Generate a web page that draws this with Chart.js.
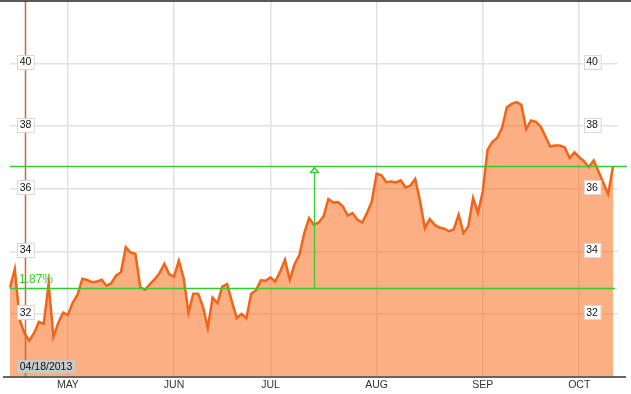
<!DOCTYPE html>
<html>
<head>
<meta charset="utf-8">
<script src="https://cdn.jsdelivr.net/npm/chart.js@4.4.0/dist/chart.umd.min.js"></script>
<style>
  html, body { margin: 0; padding: 0; background: #fff; }
  #wrap { width: 631px; height: 394px; position: relative; }
</style>
</head>
<body>
<div id="wrap"><canvas id="priceChart"></canvas></div>
<script>
// daily closes, 04/15/2013 .. 10/10/2013 (trading days)
const prices = [
  32.84, 33.43, 31.81, 31.38, 31.14, 31.39, 31.74, 31.68, 32.96, 31.27,
  31.71, 32.04, 31.97, 32.35, 32.61, 33.12, 33.08, 33.01, 33.03, 33.09,
  32.90, 32.98, 33.23, 33.33, 34.13, 33.96, 33.92, 32.85, 32.77, 32.95,
  33.11, 33.30, 33.60, 33.27, 33.19, 33.70, 33.14, 32.04, 32.64, 32.64,
  32.23, 31.55, 32.52, 32.34, 32.87, 32.95, 32.39, 31.86, 32.00, 31.86,
  32.64, 32.75, 33.07, 33.06, 33.17, 33.03, 33.35, 33.73, 33.09, 33.59,
  33.89, 34.58, 35.06, 34.85, 34.92, 35.12, 35.67, 35.56, 35.57, 35.43,
  35.14, 35.22, 35.01, 34.92, 35.22, 35.59, 36.48, 36.43, 36.21, 36.23,
  36.20, 36.27, 36.04, 36.10, 36.31, 35.60, 34.74, 35.03, 34.85, 34.76,
  34.72, 34.64, 34.70, 35.17, 34.58, 34.80, 35.70, 35.22, 35.91, 37.25,
  37.50, 37.62, 37.95, 38.60, 38.71, 38.77, 38.68, 37.90, 38.18, 38.14,
  37.99, 37.67, 37.35, 37.38, 37.38, 37.32, 36.98, 37.16, 37.01, 36.87,
  36.69, 36.90, 36.55, 36.18, 35.83, 36.71
];
const days = prices.map((p, i) => i);

// month ticks (index of first trading day of the month)
const monthStarts = [12, 34, 54, 76, 98, 118];
const monthNames = ['MAY', 'JUN', 'JUL', 'AUG', 'SEP', 'OCT'];

const yTicks = [32, 34, 36, 38, 40];

// crosshair + comparison marker
const crosshairIndex = 3;
const crosshairDate = '04/18/2013';
const markerIndex = 63;
const changeText = '1.87%';

const narrow = "'Liberation Sans Narrow', 'Liberation Sans', Arial, sans-serif";
const regular = "'Liberation Sans', Arial, sans-serif";

function labelBox(ctx, text, cx, cy) {
    ctx.font = '10.5px ' + narrow;
    const w = ctx.measureText(text).width + 5;
    const h = 14;
    ctx.fillStyle = '#fff';
    ctx.fillRect(Math.round(cx - w / 2), Math.round(cy - h / 2), w, h);
    ctx.strokeStyle = '#d8d8d8';
    ctx.lineWidth = 1;
    ctx.strokeRect(Math.round(cx - w / 2) + 0.5, Math.round(cy - h / 2) + 0.5, w, h);
    ctx.fillStyle = '#111';
    ctx.textAlign = 'center';
    ctx.textBaseline = 'middle';
    ctx.fillText(text, cx, cy + 0.5);
}

const overlay = {
    id: 'overlay',
    afterDatasetsDraw(chart) {
        const {ctx, chartArea, scales: {x, y}} = chart;
        ctx.save();

        // crosshair
        const cx = Math.round(x.getPixelForValue(crosshairIndex)) + 1.5;
        ctx.strokeStyle = '#cf6a33';
        ctx.lineWidth = 1.5;
        ctx.beginPath();
        ctx.moveTo(cx, chartArea.top);
        ctx.lineTo(cx, chartArea.bottom);
        ctx.stroke();

        // green reference lines (first and last close)
        const yLow = Math.round(y.getPixelForValue(prices[0])) + 0.5;
        const yHigh = Math.round(y.getPixelForValue(prices[prices.length - 1])) + 0.5;
        ctx.strokeStyle = '#36cc2a';
        ctx.lineWidth = 1.3;
        ctx.beginPath();
        ctx.moveTo(chartArea.left, yLow);
        ctx.lineTo(615, yLow);
        ctx.stroke();
        ctx.beginPath();
        ctx.moveTo(chartArea.left, yHigh);
        ctx.lineTo(627, yHigh);
        ctx.stroke();
        const mx = Math.round(x.getPixelForValue(markerIndex)) + 0.5;
        ctx.beginPath();
        ctx.moveTo(mx, yLow);
        ctx.lineTo(mx, yHigh + 6);
        ctx.stroke();
        // open arrow head
        ctx.beginPath();
        ctx.moveTo(mx, yHigh + 1);
        ctx.lineTo(mx - 4, yHigh + 6);
        ctx.lineTo(mx + 4, yHigh + 6);
        ctx.closePath();
        ctx.stroke();

        ctx.font = '12px ' + regular;
        ctx.fillStyle = '#36cc2a';
        ctx.textAlign = 'left';
        ctx.textBaseline = 'alphabetic';
        ctx.fillText(changeText, 19, yLow - 6);

        // extend horizontal grid to the right edge
        ctx.strokeStyle = '#e2e2e2';
        ctx.lineWidth = 1.5;
        yTicks.forEach(v => {
            const py = y.getPixelForValue(v);
            ctx.beginPath();
            ctx.moveTo(chartArea.right, py);
            ctx.lineTo(618, py);
            ctx.stroke();
        });

        // y labels on both sides
        yTicks.forEach(v => {
            const py = y.getPixelForValue(v) - 1.5;
            labelBox(ctx, String(v), cx, py);
            labelBox(ctx, String(v), 592, py);
        });

        // date box
        ctx.fillStyle = '#c9c9c9';
        ctx.fillRect(17, 360, 58, 13);
        ctx.font = '10.5px ' + regular;
        ctx.fillStyle = '#111';
        ctx.textAlign = 'center';
        ctx.textBaseline = 'middle';
        ctx.fillText(crosshairDate, 46, 367);

        // frame lines
        ctx.strokeStyle = '#222';
        ctx.lineWidth = 1.5;
        ctx.beginPath();
        ctx.moveTo(0, 1);
        ctx.lineTo(631, 1);
        ctx.stroke();
        ctx.strokeStyle = '#333';
        ctx.beginPath();
        ctx.moveTo(3, chartArea.bottom + 0.5);
        ctx.lineTo(626, chartArea.bottom + 0.5);
        ctx.stroke();

        ctx.restore();
    }
};

const priceData = {
    labels: days,
    datasets: [{
        data: prices,
        borderColor: '#f0651a',
        borderWidth: 2.5,
        backgroundColor: 'rgba(248,110,30,0.55)',
        fill: 'start',
        pointRadius: 0,
        tension: 0
    }]
};

const priceConfig = {
    type: 'line',
    data: priceData,
    options: {
        responsive: true,
        maintainAspectRatio: false,
        animation: false,
        layout: { padding: { left: 10, right: 18, top: 1, bottom: 1 } },
        plugins: { legend: { display: false }, tooltip: { enabled: false } },
        scales: {
            x: {
                type: 'category',
                border: { display: false },
                grid: {
                    drawTicks: false,
                    lineWidth: 1.5,
                    color: c => monthStarts.includes(c.index) ? '#e2e2e2' : 'rgba(0,0,0,0)'
                },
                ticks: {
                    autoSkip: false,
                    maxRotation: 0,
                    padding: 2,
                    color: '#333',
                    font: { family: narrow, size: 10.5 },
                    callback: (v, i) => {
                        const k = monthStarts.indexOf(i);
                        return k >= 0 ? monthNames[k] : '';
                    }
                }
            },
            y: {
                min: 30,
                max: 42,
                border: { display: false },
                grid: {
                    drawTicks: false,
                    lineWidth: 1.5,
                    color: c => yTicks.includes(c.tick.value) ? '#e2e2e2' : 'rgba(0,0,0,0)'
                },
                ticks: { display: false, stepSize: 2 }
            }
        }
    },
    plugins: [overlay]
};

let priceChart = new Chart(document.getElementById('priceChart'), priceConfig);
</script>
</body>
</html>
